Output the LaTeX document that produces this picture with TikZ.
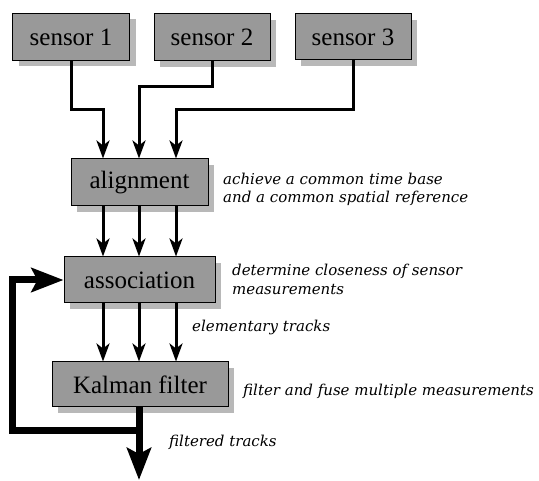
\documentclass[tikz,border=0pt]{standalone}
\usepackage{fontspec}
\newfontfamily\boxfont{Liberation Serif}
\newfontfamily\notefont{DejaVu Serif}
\usetikzlibrary{arrows.meta,shadows}
\begin{document}
\begin{tikzpicture}[x=1pt,y=-1pt,
  procbox/.style={draw=black, line width=1pt, fill=black!40, inner sep=0pt,
    font=\boxfont\upshape\fontsize{25}{27}\selectfont,
    drop shadow={shadow xshift=6pt, shadow yshift=-6pt, fill=black!28, opacity=1}},
  arr/.style={line width=3pt, -{Stealth[length=18pt,width=13pt,inset=5pt]}},
  fat/.style={line width=7pt, line join=miter},
  fatarr/.style={fat, -{Stealth[length=32pt,width=24pt,inset=6pt]}},
  note/.style={anchor=base west, inner sep=0pt, font=\notefont\itshape\fontsize{15}{18}\selectfont}]
\useasboundingbox (0,0) rectangle (539,481);
\fill[white] (0,0) rectangle (539,481);
% boxes
\node[procbox, minimum width=117, minimum height=47] (s1) at (71,37) {sensor 1};
\node[procbox, minimum width=116, minimum height=47] (s2) at (212,37.5) {sensor 2};
\node[procbox, minimum width=116, minimum height=46] (s3) at (353,37) {sensor 3};
\node[procbox, minimum width=137, minimum height=47] (al) at (139.5,182.5) {alignment};
\node[procbox, minimum width=151, minimum height=46] (as) at (139.5,280) {association};
\node[procbox, minimum width=176, minimum height=45] (kf) at (140,384.5) {Kalman filter};
% helper coordinates
\coordinate (x1) at (103,0);
\coordinate (x2) at (139,0);
\coordinate (x3) at (176,0);
\coordinate (j) at (139,431);
\coordinate (fb) at (12,431);
\coordinate (out) at (139,480);
% sensor connectors
\draw[arr] (s1.south) -- ++(0,49) -| (x1 |- al.north);
\draw[arr] (s2.south) -- ++(0,25.5) -| (x2 |- al.north);
\draw[arr] (s3.south) -- ++(0,49) -| (x3 |- al.north);
% alignment to association
\draw[arr] (x1 |- al.south) -- (x1 |- as.north);
\draw[arr] (x2 |- al.south) -- (x2 |- as.north);
\draw[arr] (x3 |- al.south) -- (x3 |- as.north);
% association to Kalman
\draw[arr] (x1 |- as.south) -- (x1 |- kf.north);
\draw[arr] (x2 |- as.south) -- (x2 |- kf.north);
\draw[arr] (x3 |- as.south) -- (x3 |- kf.north);
% output and feedback
\draw[fatarr] (j |- kf.south) -- (out);
\draw[fatarr] (j) -- (fb) |- (as.west);
% notes
\node[note] (n1) at (223,185) {achieve a common time base};
\node[note] (n1b) at (223,203) {and a common spatial reference};
\node[note] (n2) at (232,276) {determine closeness of sensor};
\node[note] (n2b) at (232,295) {measurements};
\node[note] (n3) at (192,332) {elementary tracks};
\node[note] (n4) at (243,396) {filter and fuse multiple measurements};
\node[note] (n5) at (169,447) {filtered tracks};
\end{tikzpicture}
\end{document}
